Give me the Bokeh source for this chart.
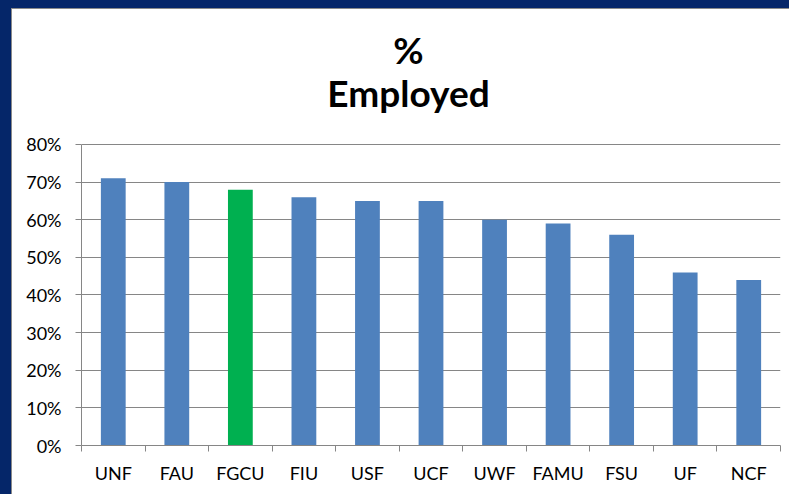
from bokeh.plotting import figure
from bokeh.models import FixedTicker, NumeralTickFormatter, Label, ColumnDataSource, Range1d
from bokeh.layouts import column
from bokeh.embed import file_html
from bokeh.resources import INLINE

schools = ["UNF", "FAU", "FGCU", "FIU", "USF", "UCF", "UWF", "FAMU", "FSU", "UF", "NCF"]
pct_employed = [0.71, 0.70, 0.68, 0.66, 0.65, 0.65, 0.60, 0.59, 0.56, 0.46, 0.44]
y_ticks = [0.0, 0.1, 0.2, 0.3, 0.4, 0.5, 0.6, 0.7, 0.8]
title_lines = ["%", "Employed"]
highlight = "FGCU"

BLUE = "#4F81BD"
GREEN = "#00B050"
GRID = "#868686"
NAVY = "#052669"
FONT = "Lato"

xs = [i + 0.5 for i in range(len(schools))]
colors = [GREEN if s == highlight else BLUE for s in schools]
src = ColumnDataSource(dict(x=xs, top=pct_employed, color=colors, name=schools))

# frame extends up to the top of the chart so that the title can sit inside it
p = figure(width=777, height=485, output_backend="svg", toolbar_location=None, title=None,
           x_range=Range1d(0, len(schools)), y_range=Range1d(0, 1.1588),
           min_border_left=69, min_border_right=9, min_border_bottom=49, min_border_top=0)
p.background_fill_color = "white"
p.border_fill_color = "white"
p.outline_line_color = None

p.vbar(x="x", top="top", width=0.39, bottom=0, fill_color="color", line_color=None, source=src)

for txt, ypos in zip(title_lines, [396, 353]):
    p.add_layout(Label(x=327, y=ypos, x_units="screen", y_units="screen", text=txt,
                       text_font=FONT, text_font_size="37px", text_font_style="bold",
                       text_color="#000000", text_align="center", text_baseline="alphabetic"))

# y axis
p.yaxis.ticker = FixedTicker(ticks=y_ticks, minor_ticks=[])
p.yaxis.bounds = (0, 0.8)
p.yaxis.formatter = NumeralTickFormatter(format="0%")
p.yaxis.axis_line_color = GRID
p.yaxis.major_tick_line_color = GRID
p.yaxis.major_tick_in = 0
p.yaxis.major_tick_out = 6
p.yaxis.major_label_text_font = FONT
p.yaxis.major_label_text_font_size = "18px"
p.yaxis.major_label_text_color = "#000000"
p.yaxis.major_label_standoff = 14

# x axis: labels at centers, ticks at category boundaries
p.xaxis.ticker = FixedTicker(ticks=xs, minor_ticks=list(range(len(schools) + 1)))
p.xaxis.major_label_overrides = {x: s for x, s in zip(xs, schools)}
p.xaxis.major_tick_line_color = None
p.xaxis.minor_tick_line_color = GRID
p.xaxis.minor_tick_in = 0
p.xaxis.minor_tick_out = 6
p.xaxis.axis_line_color = GRID
p.xaxis.major_label_text_font = FONT
p.xaxis.major_label_text_font_size = "18px"
p.xaxis.major_label_text_color = "#000000"
p.xaxis.major_label_standoff = 10

p.xgrid.grid_line_color = None
p.ygrid.ticker = FixedTicker(ticks=y_ticks)
p.ygrid.grid_line_color = GRID
p.ygrid.grid_line_width = 1

layout = column(p, styles={"background-color": "white",
                           "border-left": "11px solid " + NAVY,
                           "border-top": "8px solid " + NAVY,
                           "box-shadow": "inset 1px 1px 0 0 #8a8a8a",
                           "padding-left": "1px", "padding-top": "1px"})

open("out.html", "w").write(file_html(layout, INLINE))
